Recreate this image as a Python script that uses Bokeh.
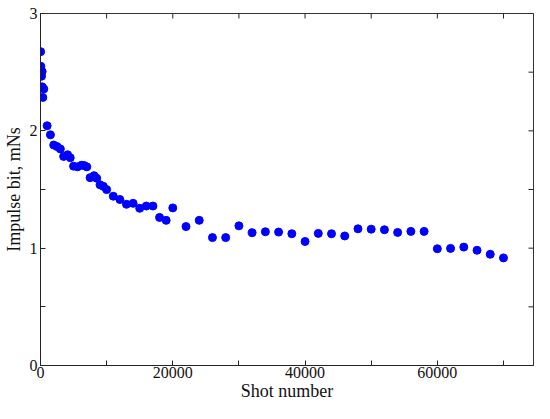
import math
from bokeh.plotting import figure
from bokeh.models import Range1d, FixedTicker
from bokeh.embed import file_html
from bokeh.resources import INLINE

# Data
shots = [20, 50, 250, 150, 250, 500, 350,
         1000, 1500, 2000, 2500, 3000, 3500, 4100, 4500, 5000, 5600,
         6200, 6600, 7000, 7500, 8100, 8500, 9000, 9500, 10000,
         11000, 12000, 13000, 14000, 15000, 16000, 17000, 18000, 19000, 20000,
         22000, 24000, 26000, 28000, 30000, 32000, 34000, 36000, 38000, 40000,
         42000, 44000, 46000, 48000, 50000, 52000, 54000, 56000, 58000, 60000,
         62000, 64000, 66000, 68000, 70000]
impulse = [2.675, 2.55, 2.505, 2.465, 2.375, 2.357, 2.285,
           2.043, 1.966, 1.879, 1.866, 1.846, 1.782, 1.796, 1.771, 1.699, 1.693,
           1.707, 1.704, 1.693, 1.601, 1.618, 1.596, 1.540, 1.527, 1.499,
           1.443, 1.415, 1.374, 1.382, 1.340, 1.359, 1.359, 1.262, 1.237, 1.343,
           1.184, 1.237, 1.090, 1.090, 1.190, 1.132, 1.140, 1.137, 1.123, 1.057,
           1.126, 1.123, 1.104, 1.165, 1.162, 1.157, 1.134, 1.143, 1.143, 0.995,
           0.998, 1.009, 0.982, 0.948, 0.917]

x_major = [0, 20000, 40000, 60000]
x_minor = [10000, 30000, 50000, 70000]
y_major = [0, 1, 2, 3]
y_minor = [0.5, 1.5, 2.5]
x_max = 74540
y_max = 3

FONT = "Liberation Serif"
INK = "#222222"

p = figure(width=534, height=403, output_backend="svg", toolbar_location=None,
           x_range=Range1d(0, x_max), y_range=Range1d(0, y_max),
           min_border_left=40, min_border_top=13, min_border_right=1,
           min_border_bottom=0)
p.grid.visible = False
p.outline_line_color = "#333333"
p.outline_line_width = 1
p.background_fill_color = "white"
p.border_fill_color = "white"

p.scatter(shots, impulse, size=8, marker="circle",
          fill_color="#0000ff", line_color="#0000ff")

# inward tick marks on the top and right edges of the box
top_ticks = sorted(x_major + x_minor)
right_ticks = sorted(y_major + y_minor)
p.ray(x=top_ticks, y=[y_max] * len(top_ticks), length=5, length_units="screen",
      angle=-math.pi / 2, line_color=INK, line_width=1)
p.ray(x=[x_max] * len(right_ticks), y=right_ticks, length=5, length_units="screen",
      angle=math.pi, line_color=INK, line_width=1)

for ax in (p.xaxis[0], p.yaxis[0]):
    ax.axis_line_color = INK
    ax.axis_line_width = 1
    ax.major_tick_in = 5
    ax.major_tick_out = 0
    ax.minor_tick_in = 5
    ax.minor_tick_out = 0
    ax.major_tick_line_color = INK
    ax.minor_tick_line_color = INK
    ax.major_label_text_font = FONT
    ax.major_label_text_font_size = "16px"
    ax.major_label_text_color = "#111111"
    ax.axis_label_text_font = FONT
    ax.axis_label_text_font_size = "18px"
    ax.axis_label_text_font_style = "normal"
    ax.axis_label_text_color = "#111111"

xa = p.xaxis[0]
xa.ticker = FixedTicker(ticks=x_major, minor_ticks=x_minor)
xa.major_label_standoff = 1
xa.axis_label = "Shot number"
xa.axis_label_standoff = 0

ya = p.yaxis[0]
ya.ticker = FixedTicker(ticks=y_major, minor_ticks=y_minor)
ya.major_label_standoff = 3
ya.axis_label = "Impulse bit, mNs"
ya.axis_label_standoff = 3

open("out.html", "w").write(file_html(p, INLINE))
